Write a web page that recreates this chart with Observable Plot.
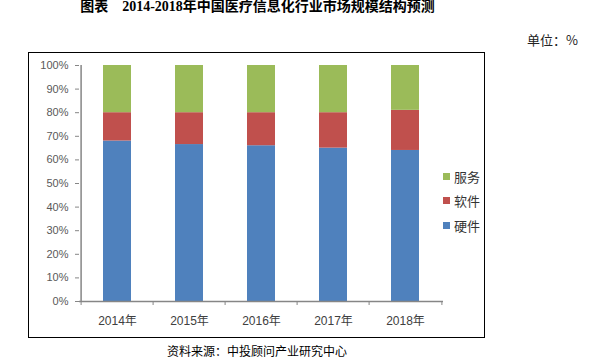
<!DOCTYPE html>
<html><head><meta charset="utf-8">
<script src="https://cdn.jsdelivr.net/npm/d3@7"></script>
<script src="https://cdn.jsdelivr.net/npm/@observablehq/plot@0.6"></script>
<style>
body{margin:0;background:#fff;}
#wrap{position:relative;width:591px;height:364px;overflow:hidden;font-family:"Noto Sans CJK SC","Liberation Sans",sans-serif;}
#title{position:absolute;left:0;top:0;width:515px;text-align:center;font-family:"Liberation Serif","Noto Sans CJK SC",serif;font-weight:700;font-size:14px;line-height:14px;color:#000;white-space:pre;}
#unit{position:absolute;left:527px;top:31px;font-size:13px;line-height:17px;color:#222;}
#box{position:absolute;left:28px;top:52px;width:457px;height:286px;border:1px solid #000;box-sizing:border-box;}
#chart{position:absolute;left:29px;top:53px;}
#legend{position:absolute;left:443px;top:164px;}
.li{display:flex;align-items:center;height:24.5px;font-size:13px;color:#333;}
.sw{width:7px;height:7px;margin-right:4px;}
#caption{position:absolute;left:0;width:514px;top:342px;text-align:center;font-size:12px;line-height:17px;color:#000;}
</style></head><body>
<div id="wrap">
  <div id="title"></div>
  <div id="unit"></div>
  <div id="box"></div>
  <div id="chart"></div>
  <div id="legend"></div>
  <div id="caption"></div>
</div>
<script>
const titleText = "图表    2014-2018年中国医疗信息化行业市场规模结构预测";
const unitText = "单位：%";
const captionText = "资料来源：中投顾问产业研究中心";
const years = ["2014年","2015年","2016年","2017年","2018年"];
const types = ["硬件","软件","服务"];
const hardware = [68, 66.5, 66, 65, 64];
const software = [12, 13.5, 14, 15, 17];
const service = [20, 20, 20, 20, 19];
const colors = ["#4F81BD","#C0504D","#9BBB59"];
const yTicks = [0, 0.1, 0.2, 0.3, 0.4, 0.5, 0.6, 0.7, 0.8, 0.9, 1];

document.getElementById("title").textContent = titleText;
document.getElementById("unit").textContent = unitText;
document.getElementById("caption").textContent = captionText;

const series = [hardware, software, service];
const rows = [];
years.forEach((y, i) => types.forEach((t, j) => rows.push({year: y, type: t, value: series[j][i] / 100})));

const W = 455, H = 284, ml = 50, mr = 41, mt = 12, mb = 36;
const step = (W - ml - mr) / years.length;
const axisColor = "#868686";

const chart = Plot.plot({
  width: W, height: H,
  marginLeft: ml, marginRight: mr, marginTop: mt, marginBottom: mb,
  style: {background: "transparent", fontFamily: "'Liberation Sans','Noto Sans CJK SC',sans-serif"},
  x: {domain: years, paddingInner: 0.61, paddingOuter: 0.305, align: 0.5, axis: null},
  y: {domain: [0, 1], axis: null},
  color: {domain: types, range: colors},
  marks: [
    Plot.barY(rows, Plot.stackY({x: "year", y: "value", fill: "type", order: types})),
    Plot.ruleY([0], {stroke: axisColor, strokeWidth: 1.5}),
    Plot.ruleX([years[0]], {y1: 0, y2: 1, dx: -step / 2, stroke: axisColor, strokeWidth: 1.5}),
    Plot.ruleX(years, {y1: 0, y2: -0.017, dx: -step / 2, stroke: axisColor}),
    Plot.ruleX([years[years.length - 1]], {y1: 0, y2: -0.017, dx: step / 2, stroke: axisColor}),
    Plot.axisY({ticks: yTicks, tickFormat: d => Math.round(d * 100) + "%", tickSize: 4, tickPadding: 7, stroke: axisColor, color: "#595959", fontSize: 11, label: null}),
    Plot.axisX({tickSize: 0, tickPadding: 15, color: "#404040", fontSize: 12, label: null})
  ]
});
document.getElementById("chart").appendChild(chart);

const legend = document.getElementById("legend");
[...types].reverse().forEach(t => {
  const li = document.createElement("div");
  li.className = "li";
  const sw = document.createElement("span");
  sw.className = "sw";
  sw.style.background = colors[types.indexOf(t)];
  const tx = document.createElement("span");
  tx.textContent = t;
  li.appendChild(sw); li.appendChild(tx);
  legend.appendChild(li);
});
</script>
</body></html>
